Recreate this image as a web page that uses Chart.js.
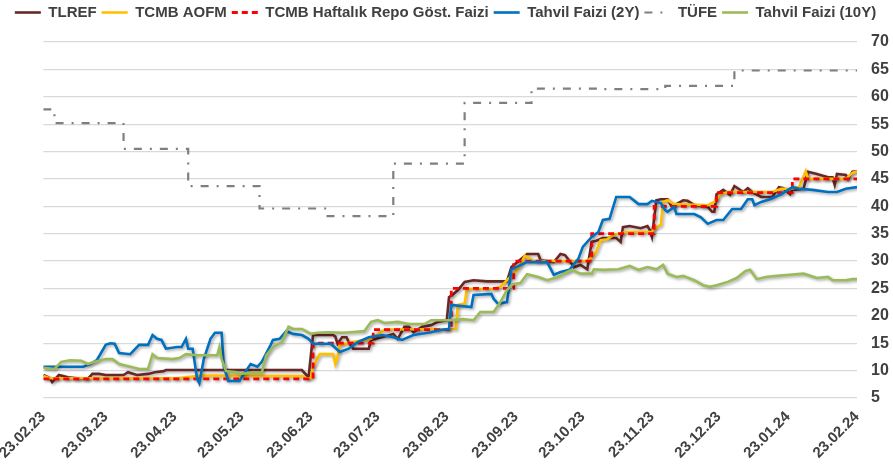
<!DOCTYPE html>
<html>
<head>
<meta charset="utf-8">
<script src="https://cdn.jsdelivr.net/npm/chart.js@4.4.1/dist/chart.umd.min.js"></script>
<style>
  html, body { margin: 0; padding: 0; background: #ffffff; }
  #wrap { width: 893px; height: 464px; position: relative; }
</style>
</head>
<body>
<div id="wrap"><canvas id="myChart"></canvas></div>
<script>
// x ekseni: 23.02.23'ten itibaren gün sayısı
const tickDays = [0, 28, 59, 89, 120, 150, 181, 212, 242, 273, 303, 334, 365];
const tickLabels = ["23.02.23", "23.03.23", "23.04.23", "23.05.23", "23.06.23", "23.07.23", "23.08.23", "23.09.23", "23.10.23", "23.11.23", "23.12.23", "23.01.24", "23.02.24"];

const seriesNames = ["TLREF", "TCMB AOFM", "TCMB Haftalık Repo Göst. Faizi", "Tahvil Faizi (2Y)", "TÜFE", "Tahvil Faizi (10Y)"];

// [gün, %]
const tlref = [[0,9.2],[3,8.6],[4,7.9],[7,9.2],[11,8.8],[15,8.6],[20,8.5],[22,9.4],[25,9.4],[28,9.2],[31,9.2],[36,9.2],[38,9.7],[42,9.2],[47,9.4],[50,9.7],[54,9.9],[55,10.1],[116,10.1],[118,9.2],[119,8.8],[121,16.5],[130,16.5],[131,16.2],[132,14.9],[134,16.1],[136,16.1],[137,15.2],[139,14.0],[146,14.0],[147,15.6],[152,16.1],[157,16.7],[159,15.8],[162,18.0],[164,18.0],[166,17.0],[170,18.0],[174,18.3],[177,18.9],[181,19.2],[182,23.4],[184,24.0],[186,24.7],[189,26.2],[193,26.5],[199,26.3],[208,26.3],[210,28.9],[217,31.3],[222,31.3],[223,30.2],[229,29.8],[232,31.3],[234,31.1],[237,29.5],[238,28.9],[241,29.3],[244,28.5],[246,33.5],[248,33.7],[251,34.2],[257,34.2],[259,33.5],[260,36.2],[263,36.4],[268,36.0],[271,36.4],[272,35.7],[273,34.4],[275,41.1],[277,41.3],[280,41.3],[282,39.9],[284,40.4],[287,41.1],[289,41.0],[292,40.2],[298,39.9],[300,39.0],[301,39.0],[302,42.2],[305,43.0],[308,42.1],[310,43.7],[314,42.6],[316,43.3],[318,42.6],[322,41.7],[327,41.7],[330,43.5],[332,43.3],[335,42.2],[336,43.0],[341,43.2],[343,46.3],[347,45.9],[352,45.3],[354,45.3],[355,43.9],[356,45.9],[360,45.7],[361,45.0],[363,46.3],[365,46.4]];

const aofm = [[0,9.0],[3,8.6],[60,8.6],[67,8.9],[72,9.1],[116,9.0],[118,8.6],[120,8.6],[121,10.7],[124,13.0],[130,13.0],[131,11.2],[132,12.5],[133,14.7],[139,15.2],[147,15.8],[153,17.4],[155,17.5],[185,17.6],[186,22.0],[189,22.2],[190,24.9],[202,24.9],[205,25.3],[208,26.5],[213,28.5],[216,31.0],[220,30.0],[244,30.0],[246,30.7],[248,31.7],[250,33.8],[253,34.0],[256,34.8],[262,35.3],[273,35.3],[274,35.9],[277,36.6],[278,40.8],[280,41.1],[283,40.4],[298,40.2],[301,40.8],[304,42.2],[307,42.6],[327,42.6],[331,43.2],[336,43.2],[339,43.5],[342,46.4],[343,45.0],[360,45.0],[363,46.1],[365,46.4]];

const repo = [[0,8.5],[121,15],[148,17.5],[183,25],[211,30],[246,35],[274,40],[302,42.5],[336,45],[365,45]];

const tahvil2y = [[0,10.7],[6,10.7],[18,10.7],[21,11.2],[24,11.9],[28,14.7],[30,15.0],[32,14.9],[34,13.2],[39,13.0],[43,14.7],[47,14.7],[49,16.5],[51,15.8],[53,15.6],[55,14.0],[60,14.3],[62,14.3],[64,15.8],[65,14.0],[67,14.0],[69,8.5],[70,7.7],[72,12.1],[75,15.8],[77,16.9],[80,16.9],[81,10.7],[83,8.1],[88,8.1],[90,9.4],[93,11.2],[96,10.7],[98,11.6],[102,14.7],[103,15.6],[106,15.8],[109,17.2],[112,16.7],[116,16.5],[119,15.8],[121,14.9],[129,14.9],[133,13.4],[137,14.0],[141,15.2],[146,16.1],[152,16.5],[157,16.1],[161,15.6],[166,16.5],[174,17.0],[178,17.4],[182,17.6],[183,22.0],[192,21.6],[193,23.8],[201,24.0],[202,23.1],[204,22.2],[208,22.5],[210,28.5],[217,29.8],[226,29.8],[229,27.5],[232,28.0],[236,28.4],[240,30.4],[242,32.6],[246,34.4],[249,35.3],[251,37.5],[254,37.7],[257,41.7],[263,41.7],[267,40.4],[271,40.4],[273,41.0],[277,40.6],[279,39.3],[280,39.0],[283,39.9],[284,38.6],[292,38.6],[295,38.0],[298,36.8],[302,37.5],[305,37.5],[309,39.5],[313,39.5],[316,41.3],[318,41.3],[319,40.2],[322,40.8],[326,41.3],[331,42.2],[336,43.5],[339,43.2],[345,43.0],[352,42.6],[356,42.6],[360,43.2],[365,43.5]];

const tufe = [[0,57.7],[5,55.2],[36,50.5],[65,43.7],[97,39.6],[127,38.2],[157,47.8],[189,58.9],[219,61.5],[249,61.4],[279,62.0],[310,64.8],[365,64.9]];

const tahvil10y = [[0,10.5],[5,10.3],[8,11.6],[12,11.9],[17,11.8],[20,11.2],[23,11.6],[28,12.1],[31,12.1],[34,11.2],[39,10.7],[43,10.3],[47,10.3],[49,13.0],[51,12.3],[58,12.1],[61,12.3],[64,13.0],[69,12.8],[73,12.8],[78,12.8],[79,14.3],[80,12.1],[82,9.9],[87,9.7],[88,9.4],[94,9.6],[98,9.6],[100,12.8],[103,14.3],[107,15.2],[110,18.0],[112,17.6],[116,17.6],[120,16.7],[123,16.9],[128,17.0],[134,16.9],[138,17.0],[144,17.2],[147,18.9],[150,19.2],[153,18.7],[159,18.9],[164,18.5],[171,18.5],[174,19.2],[180,19.2],[183,19.2],[188,19.4],[193,19.2],[196,20.7],[202,20.7],[205,22.5],[208,24.7],[210,25.6],[211,25.8],[214,26.0],[217,27.6],[222,27.1],[226,26.5],[231,27.1],[235,28.0],[237,28.4],[241,27.7],[246,27.7],[247,28.5],[251,28.4],[258,28.5],[263,29.1],[267,28.4],[271,28.9],[275,28.5],[278,29.3],[280,27.7],[284,27.1],[287,27.3],[292,26.5],[296,25.6],[299,25.3],[302,25.6],[307,26.2],[311,26.9],[315,28.2],[317,28.4],[320,26.7],[324,27.1],[329,27.3],[335,27.5],[341,27.7],[347,26.9],[352,27.1],[354,26.5],[360,26.5],[363,26.7],[365,26.7]];

const seriesData = [tlref, aofm, repo, tahvil2y, tufe, tahvil10y];
const seriesColors = ["#672826", "#FFC000", "#FF0000", "#0070C0", "#7F7F7F", "#9BBB59"];
const seriesDash = [[], [], [6, 4], [], [8, 8, 2, 8], []];
const seriesWidth = [2.6, 2.6, 2.8, 2.6, 2.2, 2.6];
const seriesStepped = [false, false, true, false, true, false];

const textColor = "#404040";
const fontFamily = "'Liberation Sans', Arial, sans-serif";

// Excel tarzı hafif gölge
const shadowPlugin = {
  id: "lineShadow",
  beforeDatasetDraw(chart, args) {
    const ctx = chart.ctx;
    ctx.save();
    if (args.index !== 4) {
      ctx.shadowColor = "rgba(0,0,0,0.35)";
      ctx.shadowBlur = 3;
      ctx.shadowOffsetX = 1.5;
      ctx.shadowOffsetY = 1.5;
    }
  },
  afterDatasetDraw(chart) {
    chart.ctx.restore();
  },
};

// lejant ile grafik arasında boşluk
const legendGap = {
  id: "legendGap",
  beforeInit(chart) {
    const origFit = chart.legend.fit;
    chart.legend.fit = function () {
      origFit.bind(chart.legend)();
      this.height += 12;
    };
  },
};

function createChart() {
  const datasets = seriesNames.map((name, i) => ({
    label: name,
    data: seriesData[i].map((p) => ({ x: p[0], y: p[1] })),
    borderColor: seriesColors[i],
    backgroundColor: seriesColors[i],
    borderWidth: seriesWidth[i],
    borderDash: seriesDash[i],
    stepped: seriesStepped[i],
    pointRadius: 0,
    pointHoverRadius: 0,
    tension: 0,
    fill: false,
    order: 10 - i, // sonraki seri üstte çizilsin
  }));

  const ctx = document.getElementById("myChart").getContext("2d");
  new Chart(ctx, {
    type: "line",
    data: { datasets: datasets },
    plugins: [shadowPlugin, legendGap],
    options: {
      responsive: true,
      maintainAspectRatio: false,
      animation: false,
      devicePixelRatio: 1,
      layout: { padding: { left: 0, right: 2, top: 0, bottom: 0 } },
      plugins: {
        tooltip: { enabled: false },
        legend: {
          position: "top",
          labels: {
            usePointStyle: true,
            pointStyle: "line",
            pointStyleWidth: 26,
            boxHeight: 10,
            padding: 5,
            color: textColor,
            font: { family: fontFamily, size: 15, weight: "bold" },
            sort: (a, b) => a.datasetIndex - b.datasetIndex,
            generateLabels: (chart) => {
              const items = Chart.defaults.plugins.legend.labels.generateLabels(chart);
              items.forEach((item) => {
                const ds = chart.data.datasets[item.datasetIndex];
                item.lineDash = ds.borderDash;
                item.lineWidth = ds.borderWidth;
                item.strokeStyle = ds.borderColor;
              });
              return items;
            },
          },
        },
      },
      scales: {
        x: {
          type: "linear",
          min: 0,
          max: 365,
          afterBuildTicks: (axis) => {
            axis.ticks = tickDays.map((d) => ({ value: d }));
          },
          ticks: {
            autoSkip: false,
            minRotation: 45,
            maxRotation: 45,
            padding: 2,
            color: textColor,
            font: { family: fontFamily, size: 15, weight: "bold" },
            callback: (value, index) => tickLabels[index],
          },
          grid: { display: false },
          border: { display: false },
        },
        y: {
          position: "right",
          min: 5,
          max: 70,
          afterFit: (axis) => {
            axis.width = 34;
          },
          ticks: {
            stepSize: 5,
            padding: 14,
            color: textColor,
            font: { family: fontFamily, size: 16, weight: "bold" },
          },
          grid: { color: "#D9D9D9", lineWidth: 1.3, drawTicks: false },
          border: { display: false },
        },
      },
    },
  });
}

window.onload = function () {
  createChart();
};
</script>
</body>
</html>
